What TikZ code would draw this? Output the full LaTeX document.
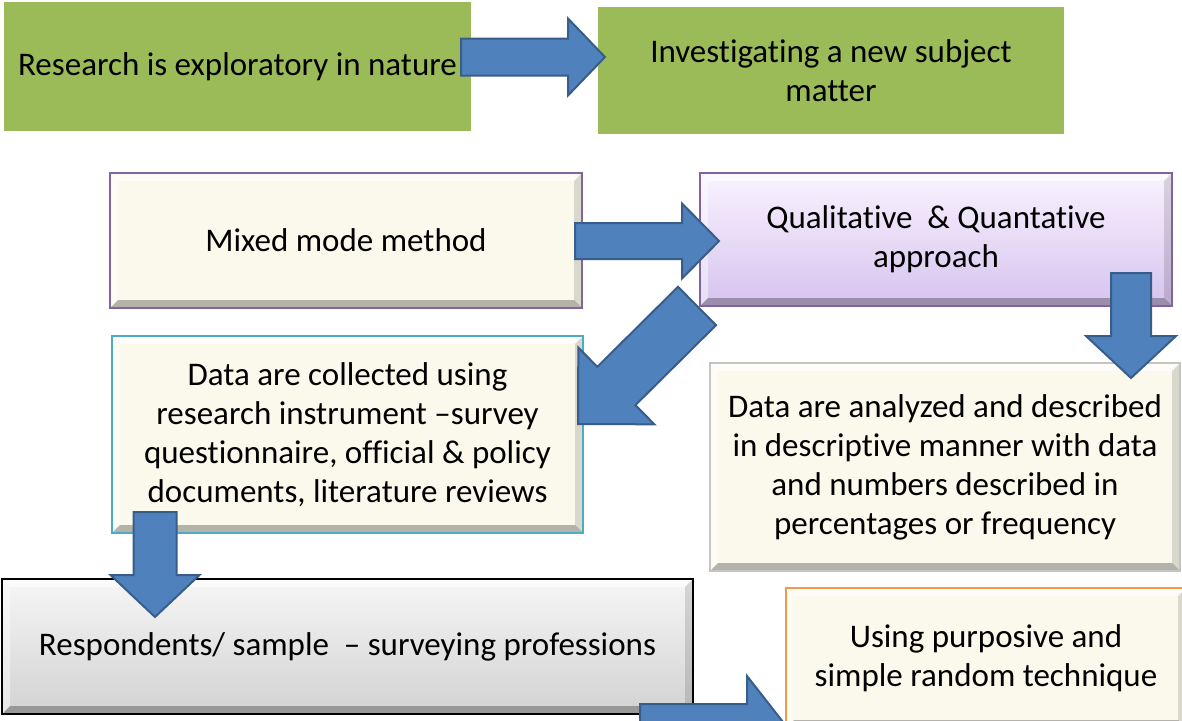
\documentclass[tikz,border=0pt]{standalone}
\usepackage{fontspec}
\setmainfont[Ligatures=NoCommon]{Carlito}
\usetikzlibrary{calc}
\definecolor{grn}{HTML}{9BBB59}
\definecolor{cream}{HTML}{FBF8EC}
\definecolor{purp}{HTML}{8064A2}
\definecolor{lavtop}{HTML}{F9F3FF}
\definecolor{lavbot}{HTML}{D6C3EE}
\definecolor{teal}{HTML}{4BACC6}
\definecolor{lgray}{HTML}{C4C4C4}
\definecolor{graytop}{HTML}{F6F6F6}
\definecolor{graybot}{HTML}{D2D2D2}
\definecolor{orng}{HTML}{F79646}
\definecolor{afill}{HTML}{4F81BD}
\definecolor{aline}{HTML}{385D8A}
\tikzset{
  box/.style={rectangle, inner sep=0pt, align=center, line width=1.5pt,
    font=\fontsize{33}{39}\selectfont},
  flatbox/.style={box, fill=grn, draw=grn},
  bevel/.style={path picture={
    \fill[white,opacity=0.65] (path picture bounding box.north west) -- (path picture bounding box.north east)
      -- ([xshift=-8pt,yshift=-8pt]path picture bounding box.north east) -- ([xshift=8pt,yshift=-8pt]path picture bounding box.north west) -- cycle;
    \fill[white,opacity=0.45] (path picture bounding box.north west) -- (path picture bounding box.south west)
      -- ([xshift=8pt,yshift=8pt]path picture bounding box.south west) -- ([xshift=8pt,yshift=-8pt]path picture bounding box.north west) -- cycle;
    \fill[black,opacity=0.13] (path picture bounding box.north east) -- (path picture bounding box.south east)
      -- ([xshift=-8pt,yshift=8pt]path picture bounding box.south east) -- ([xshift=-8pt,yshift=-8pt]path picture bounding box.north east) -- cycle;
    \fill[black,opacity=0.28] (path picture bounding box.south west) -- (path picture bounding box.south east)
      -- ([xshift=-8pt,yshift=8pt]path picture bounding box.south east) -- ([xshift=8pt,yshift=8pt]path picture bounding box.south west) -- cycle;
  }},
  barrow/.style={fill=afill, draw=aline, line width=2pt, line join=miter},
}
\newcommand{\blockarrow}[5]{%
  \coordinate (#1h) at ($(#2)!#5!(#1)$);
  \filldraw[barrow] ($(#1)!#3!90:(#2)$) -- ($(#1h)!#3!90:(#2)$) -- ($(#1h)!#4!90:(#2)$) -- (#2)
    -- ($(#1h)!#4!-90:(#2)$) -- ($(#1h)!#3!-90:(#2)$) -- ($(#1)!#3!-90:(#2)$) -- cycle;
}
\begin{document}
\begin{tikzpicture}[x=1pt,y=-1pt]
\clip (0,0) rectangle (1182,720);
\fill[white] (0,0) rectangle (1182,720);
% boxes
\node[flatbox, minimum width=465pt, minimum height=127pt] (g1) at (237.5,66.5) {Research is exploratory in nature};
\node[flatbox, minimum width=464pt, minimum height=125pt] (g2) at (831,70.5) {Investigating a new subject\\matter};
\node[box, bevel, fill=cream, draw=purp, minimum width=472pt, minimum height=135pt] (mm) at (346,240.5) {Mixed mode method};
\node[box, bevel, top color=lavtop, bottom color=lavbot, draw=purp, minimum width=472pt, minimum height=133pt] (qa) at (936,239.5) {Qualitative\ \ \& Quantative\\approach};
\node[box, bevel, fill=cream, draw=teal, minimum width=471pt, minimum height=197pt] (dc) at (347.5,434.5) {Data are collected using\\research instrument –survey\\questionnaire, official \& policy\\documents, literature reviews};
\node[box, bevel, fill=cream, draw=lgray, minimum width=470pt, minimum height=208pt] (da) at (945,467) {Data are analyzed and described\\in descriptive manner with data\\and numbers described in\\percentages or frequency};
\node[box, bevel, top color=graytop, bottom color=graybot, draw=black, minimum width=691pt, minimum height=135pt] (rs) at (347.5,646.5) {Respondents/ sample\ \ – surveying professions};
\node[box, bevel, fill=cream, draw=orng, minimum width=400pt, minimum height=140pt] (ur) at (986,658) {Using purposive and\\simple random technique};
% arrows
\coordinate (t1) at (461,57);   \coordinate (p1) at (605,57);
\coordinate (t2) at (575,241);  \coordinate (p2) at (719,241);
\coordinate (t3) at (697,306);  \coordinate (p3) at (578,424);
\coordinate (t4) at (1131,273); \coordinate (p4) at (1131,378);
\coordinate (t5) at (155,512);  \coordinate (p5) at (155,617);
\coordinate (t6) at (640,722);  \coordinate (p6) at (783,722);
\blockarrow{t1}{p1}{18.5pt}{38.5pt}{37pt}
\blockarrow{t2}{p2}{18pt}{37.5pt}{37pt}
\blockarrow{t3}{p3}{27pt}{54pt}{54pt}
\blockarrow{t4}{p4}{20pt}{45pt}{42pt}
\blockarrow{t5}{p5}{21.5pt}{44.5pt}{42pt}
\blockarrow{t6}{p6}{18pt}{46pt}{36pt}
\end{tikzpicture}
\end{document}
